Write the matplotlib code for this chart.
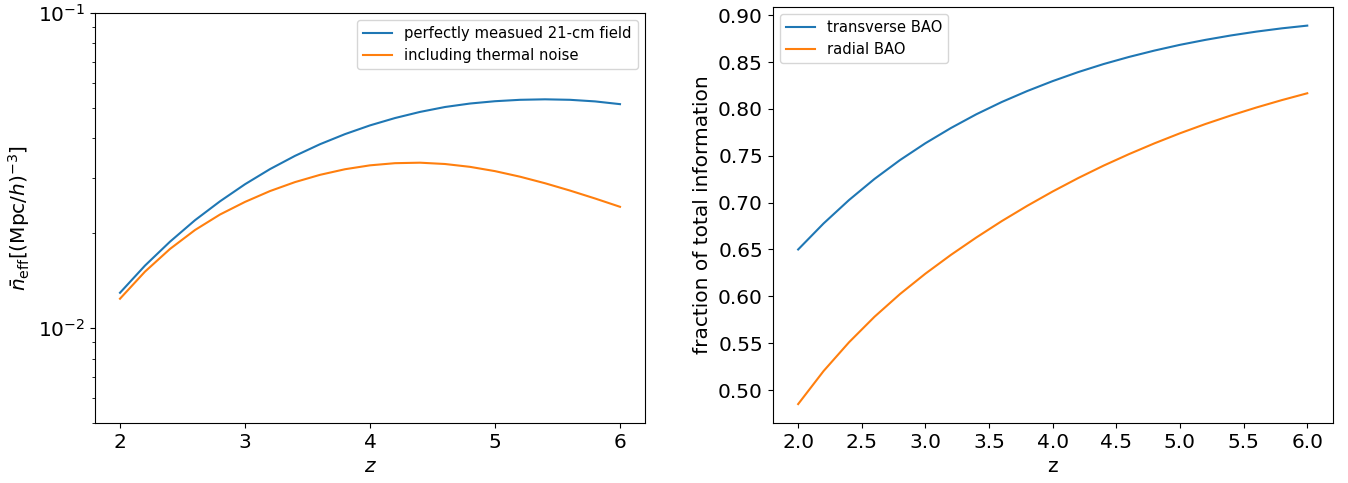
import numpy as np
import matplotlib
matplotlib.use("Agg")
import matplotlib.pyplot as plt
from matplotlib.ticker import MultipleLocator

# redshift grid
z = [2.0, 2.2, 2.4, 2.6, 2.8, 3.0, 3.2, 3.4, 3.6, 3.8, 4.0,
     4.2, 4.4, 4.6, 4.8, 5.0, 5.2, 5.4, 5.6, 5.8, 6.0]

# left panel: effective number density [(Mpc/h)^-3]
n_eff_perfect = [0.01294, 0.01578, 0.01879, 0.02198, 0.02523, 0.02858, 0.03192,
                 0.03516, 0.03828, 0.04121, 0.04392, 0.04634, 0.04846, 0.05023,
                 0.05152, 0.05240, 0.05294, 0.05313, 0.05294, 0.05233, 0.05129]
n_eff_noise = [0.01239, 0.01510, 0.01782, 0.02046, 0.02291, 0.02512, 0.02719,
               0.02903, 0.03061, 0.03189, 0.03281, 0.03333, 0.03345, 0.03313,
               0.03245, 0.03145, 0.03020, 0.02879, 0.02729, 0.02576, 0.02424]

# right panel: fraction of total information
frac_transverse = [0.6500, 0.6778, 0.7028, 0.7253, 0.7454, 0.7634, 0.7796,
                   0.7943, 0.8074, 0.8191, 0.8297, 0.8393, 0.8479, 0.8555,
                   0.8623, 0.8684, 0.8737, 0.8784, 0.8825, 0.8860, 0.8889]
frac_radial = [0.4850, 0.5203, 0.5510, 0.5782, 0.6024, 0.6242, 0.6442,
               0.6628, 0.6803, 0.6966, 0.7119, 0.7262, 0.7395, 0.7518,
               0.7633, 0.7740, 0.7839, 0.7930, 0.8015, 0.8094, 0.8167]

left_labels = ["perfectly measued 21-cm field", "including thermal noise"]
right_labels = ["transverse BAO", "radial BAO"]

LABEL_FS = 14.5
LEGEND_FS = 10.6

W, H = 1348, 483
fig = plt.figure(figsize=(W / 100, H / 100), dpi=100)

ax1 = fig.add_axes([95 / W, (H - 423) / H, 550 / W, (423 - 12.7) / H])
ax2 = fig.add_axes([772.7 / W, (H - 423) / H, (1332.7 - 772.7) / W, (423 - 6.7) / H])

ax1.plot(z, n_eff_perfect, color="C0", label=left_labels[0])
ax1.plot(z, n_eff_noise, color="C1", label=left_labels[1])
ax1.set_yscale("log")
ax1.set_ylim(0.005, 0.1)
ax1.xaxis.set_major_locator(MultipleLocator(1))
ax1.set_xlabel("$z$", fontsize=LABEL_FS)
ax1.set_ylabel(r"$\bar{n}_{\rm eff}[({\rm Mpc}/h)^{-3}]$", fontsize=LABEL_FS)
ax1.tick_params(labelsize=LABEL_FS)
ax1.legend(loc="upper right", fontsize=LEGEND_FS)

ax2.plot(z, frac_transverse, color="C0", label=right_labels[0])
ax2.plot(z, frac_radial, color="C1", label=right_labels[1])
ax2.set_xlabel("z", fontsize=LABEL_FS)
ax2.set_ylabel("fraction of total information", fontsize=LABEL_FS)
ax2.tick_params(labelsize=LABEL_FS)
ax2.legend(loc="upper left", fontsize=LEGEND_FS)

fig.savefig("out.png", dpi=100)
